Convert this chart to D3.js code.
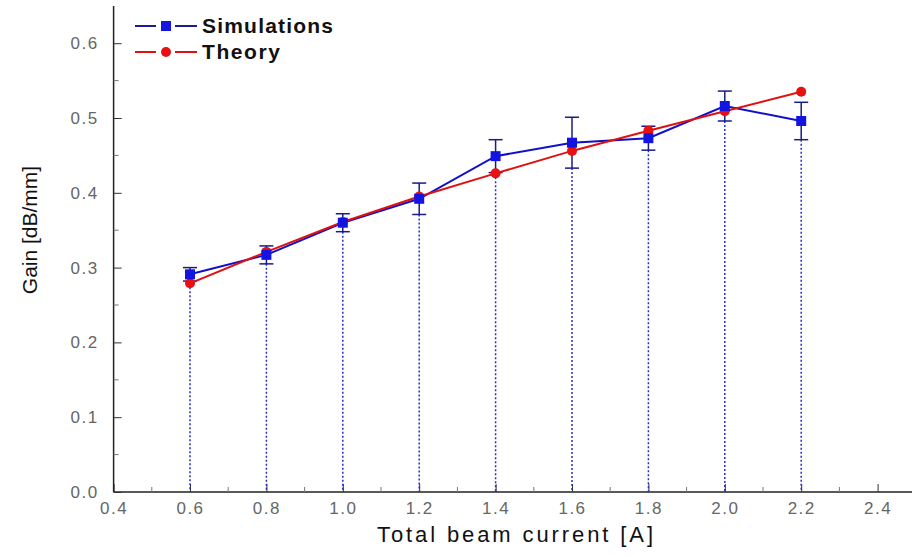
<!DOCTYPE html>
<html>
<head>
<meta charset="utf-8">
<script src="https://cdn.jsdelivr.net/npm/d3@7"></script>
<style>
  body { margin: 0; background: #fff; }
  svg { display: block; }
</style>
</head>
<body>
<svg id="chart" width="912" height="557"></svg>
<script>
// beam current values
const currents = [0.6, 0.8, 1.0, 1.2, 1.4, 1.6, 1.8, 2.0, 2.2];
// simulation gain + error
const simGain = [0.291, 0.317, 0.360, 0.392, 0.449, 0.467, 0.473, 0.516, 0.496];
const simErr = [0.009, 0.012, 0.012, 0.021, 0.022, 0.034, 0.016, 0.020, 0.025];
// theory gain
const theoryGain = [0.279, 0.321, 0.361, 0.395, 0.426, 0.456, 0.483, 0.509, 0.535];

const xTicks = [0.4, 0.6, 0.8, 1.0, 1.2, 1.4, 1.6, 1.8, 2.0, 2.2, 2.4];
const yTicks = [0.0, 0.1, 0.2, 0.3, 0.4, 0.5, 0.6];

const svg = d3.select("#chart");
const padLeft = 113.6, padBottom = 492, padTop = 6;

const x = d3.scaleLinear().domain([0.4, 2.5]).range([padLeft, padLeft + 2.1 * 382]);
const y = d3.scaleLinear().domain([0, 0.65]).range([padBottom, padBottom - 0.65 * 748]);

const font = "'Liberation Sans', Arial, sans-serif";

// minor ticks
const xMinor = d3.range(0.5, 2.45, 0.2);
const yMinor = d3.range(0.05, 0.65, 0.1);

const g = svg.append("g");

// x axis
const xAxis = d3.axisBottom(x).tickValues(xTicks).tickSize(-8).tickPadding(10)
  .tickFormat(d3.format(".1f"));
const gx = g.append("g").attr("transform", `translate(0,${padBottom})`).call(xAxis);
gx.select(".domain").attr("stroke", "#222").attr("stroke-width", 1.5)
  .attr("d", `M${padLeft},0H912`);
gx.selectAll(".tick line").attr("stroke", "#333");
gx.selectAll("text").attr("font-family", font).attr("font-size", 17)
  .attr("letter-spacing", 1.5).attr("fill", "#666");

gx.selectAll(".minor").data(xMinor).enter().append("line")
  .attr("x1", d => x(d)).attr("x2", d => x(d)).attr("y1", 0).attr("y2", -5)
  .attr("stroke", "#777");

// y axis
const yAxis = d3.axisLeft(y).tickValues(yTicks).tickSize(-8).tickPadding(15)
  .tickFormat(d3.format(".1f"));
const gy = g.append("g").attr("transform", `translate(${padLeft},0)`).call(yAxis);
gy.select(".domain").attr("stroke", "#222").attr("stroke-width", 1.5)
  .attr("d", `M0,${padTop}V${padBottom}`);
gy.selectAll(".tick line").attr("stroke", "#333");
gy.selectAll("text").attr("font-family", font).attr("font-size", 17)
  .attr("letter-spacing", 1.5).attr("fill", "#666");

gy.selectAll(".minor").data(yMinor).enter().append("line")
  .attr("x1", 0).attr("x2", 5).attr("y1", d => y(d)).attr("y2", d => y(d))
  .attr("stroke", "#777");

// axis titles
svg.append("text").attr("x", 377).attr("y", 542)
  .attr("textLength", 276).attr("lengthAdjust", "spacing")
  .attr("font-family", font).attr("font-size", 22).attr("fill", "#111")
  .text("Total beam current [A]");
svg.append("text").attr("transform", "translate(37,230) rotate(-90)")
  .attr("text-anchor", "middle")
  .attr("font-family", font).attr("font-size", 21).attr("fill", "#111")
  .text("Gain [dB/mm]");

// dotted drop lines
g.selectAll(".drop").data(currents).enter().append("line")
  .attr("x1", d => x(d)).attr("x2", d => x(d))
  .attr("y1", (d, i) => y(Math.min(simGain[i] - simErr[i], theoryGain[i])))
  .attr("y2", padBottom)
  .attr("stroke", "#2a2ad0").attr("stroke-width", 1.5).attr("stroke-dasharray", "2,2");

// error bars
const eb = g.selectAll(".err").data(currents).enter().append("g");
eb.append("line")
  .attr("x1", d => x(d)).attr("x2", d => x(d))
  .attr("y1", (d, i) => y(simGain[i] - simErr[i]))
  .attr("y2", (d, i) => y(simGain[i] + simErr[i]))
  .attr("stroke", "#1a1a8a").attr("stroke-width", 1.5);
eb.append("line")
  .attr("x1", d => x(d) - 7).attr("x2", d => x(d) + 7)
  .attr("y1", (d, i) => y(simGain[i] + simErr[i]))
  .attr("y2", (d, i) => y(simGain[i] + simErr[i]))
  .attr("stroke", "#1a1a8a").attr("stroke-width", 1.5);
eb.append("line")
  .attr("x1", d => x(d) - 7).attr("x2", d => x(d) + 7)
  .attr("y1", (d, i) => y(simGain[i] - simErr[i]))
  .attr("y2", (d, i) => y(simGain[i] - simErr[i]))
  .attr("stroke", "#1a1a8a").attr("stroke-width", 1.5);

// lines
const simLine = d3.line().x((d, i) => x(currents[i])).y(d => y(d));
g.append("path").datum(simGain).attr("d", simLine)
  .attr("fill", "none").attr("stroke", "#1010c8").attr("stroke-width", 2);
g.append("path").datum(theoryGain).attr("d", simLine)
  .attr("fill", "none").attr("stroke", "#e01010").attr("stroke-width", 2);

// markers
g.selectAll(".th").data(theoryGain).enter().append("circle")
  .attr("cx", (d, i) => x(currents[i])).attr("cy", d => y(d)).attr("r", 5)
  .attr("fill", "#e81010");
g.selectAll(".sim").data(simGain).enter().append("rect")
  .attr("x", (d, i) => x(currents[i]) - 5).attr("y", d => y(d) - 5)
  .attr("width", 10).attr("height", 10).attr("fill", "#1414e0");

// legend
const legend = [
  { name: "Simulations", color: "#1a1a9a", mark: "square", y: 26, w: 131 },
  { name: "Theory", color: "#e01010", mark: "circle", y: 52, w: 78 }
];
legend.forEach(l => {
  svg.append("line").attr("x1", 135).attr("x2", 156).attr("y1", l.y).attr("y2", l.y)
    .attr("stroke", l.color).attr("stroke-width", 2);
  svg.append("line").attr("x1", 175).attr("x2", 197).attr("y1", l.y).attr("y2", l.y)
    .attr("stroke", l.color).attr("stroke-width", 2);
  if (l.mark === "square") {
    svg.append("rect").attr("x", 161).attr("y", l.y - 5).attr("width", 10).attr("height", 10)
      .attr("fill", "#1414e0");
  } else {
    svg.append("circle").attr("cx", 166).attr("cy", l.y).attr("r", 5).attr("fill", "#e81010");
  }
  svg.append("text").attr("x", 202).attr("y", l.y + 7)
    .attr("textLength", l.w).attr("lengthAdjust", "spacing")
    .attr("font-family", font).attr("font-size", 21).attr("font-weight", "bold")
    .attr("fill", "#111").text(l.name);
});
</script>
</body>
</html>
